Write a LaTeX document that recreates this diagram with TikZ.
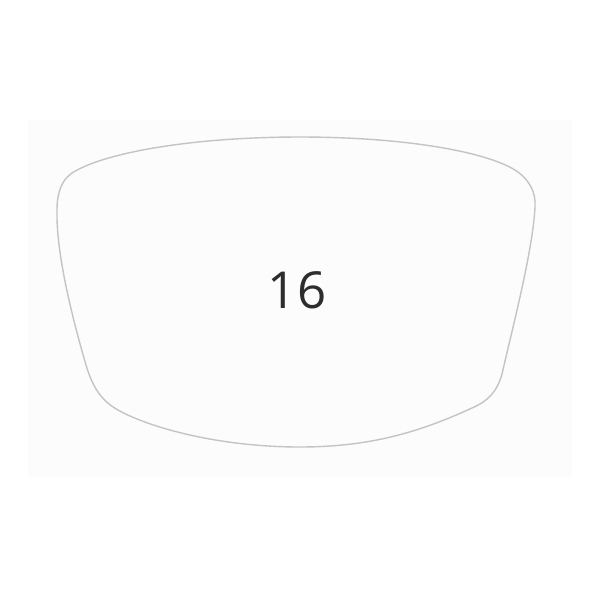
\documentclass[tikz,border=0pt]{standalone}
\usepackage{fontspec}
\setsansfont{Open Sans}
\definecolor{lensgray}{RGB}{196, 196, 196}
\definecolor{panelwhite}{RGB}{252, 252, 252}
\definecolor{labeldark}{RGB}{45, 45, 45}
\usepackage{tikz}
\usetikzlibrary{positioning, calc}

\begin{document}
\begin{tikzpicture}[x=0.02cm, y=-0.02cm]
  \useasboundingbox (0,0) rectangle (600,600);
  % faint panel behind the lens
  \fill[panelwhite] (28,120) rectangle (572,478);
  % lens outline
  \draw[lensgray, line width=0.8pt]
    (72,173) .. controls (105,152) and (195,137) .. (300,137)
             .. controls (405,137) and (490,152) .. (518,172)
             .. controls (530,181) and (536,193) .. (535,207)
             .. controls (533,250) and (512,330) .. (502,374)
             .. controls (497,392) and (488,401) .. (472,408)
             .. controls (420,432) and (370,447) .. (300,447)
             .. controls (220,447) and (150,428) .. (118,410)
             .. controls (100,400) and (92,385) .. (86,365)
             .. controls (70,310) and (56,250) .. (57,210)
             .. controls (57,192) and (62,180) .. cycle;
  \node[text=labeldark, font=\sffamily\fontsize{29}{34}\selectfont] (lenslabel) at (297,290) {16};
\end{tikzpicture}
\end{document}
